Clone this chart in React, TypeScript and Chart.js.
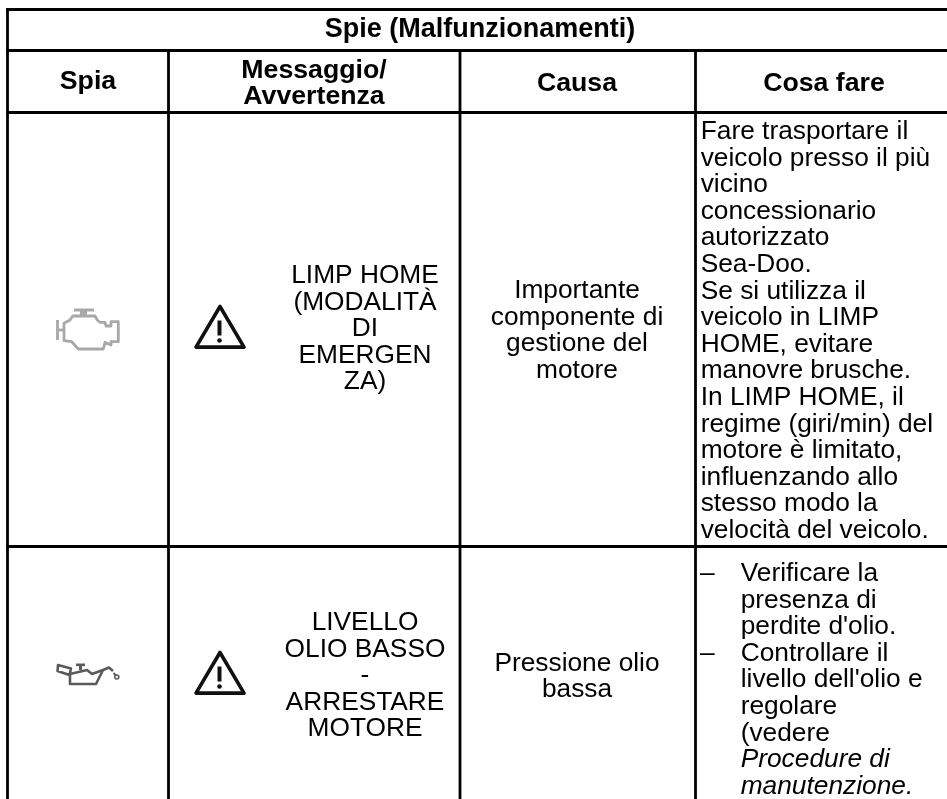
import React, { useEffect, useRef } from "react";
import { Chart, registerables } from "chart.js";

Chart.register(...registerables);

const WIDTH = 947;
const HEIGHT = 799;
const FAMILY = '"Liberation Sans", Arial, sans-serif';
const BODY = 26.3;
const HEAD = 26.7;
const TITLE = 27;

// table frame
const columnEdges = [7.5, 168.5, 460, 695.5];
const rowEdges = [9.5, 50.5, 112.5, 546.5];

// text: [text, x, baseline]
type T = [string, number, number];
const titleText: T[] = [["Spie (Malfunzionamenti)", 480, 36.7]];
const headerTexts: T[] = [
  ["Spia", 88, 88.5],
  ["Messaggio/", 314, 77.7],
  ["Avvertenza", 314, 104],
  ["Causa", 577, 90.7],
  ["Cosa fare", 824, 90.7],
];
const messageTexts: T[] = [
  ["LIMP HOME", 365, 283],
  ["(MODALITÀ", 365, 309.6],
  ["DI", 365, 336.2],
  ["EMERGEN", 365, 362.8],
  ["ZA)", 365, 389.4],
  ["LIVELLO", 365, 630],
  ["OLIO BASSO", 365, 656.6],
  ["-", 365, 683.2],
  ["ARRESTARE", 365, 709.8],
  ["MOTORE", 365, 736.4],
];
const causeTexts: T[] = [
  ["Importante", 577, 298],
  ["componente di", 577, 324.6],
  ["gestione del", 577, 351.2],
  ["motore", 577, 377.8],
  ["Pressione olio", 577, 670.7],
  ["bassa", 577, 697.3],
];
const actionLines = [
  "Fare trasportare il",
  "veicolo presso il più",
  "vicino",
  "concessionario",
  "autorizzato",
  "Sea-Doo.",
  "Se si utilizza il",
  "veicolo in LIMP",
  "HOME, evitare",
  "manovre brusche.",
  "In LIMP HOME, il",
  "regime (giri/min) del",
  "motore è limitato,",
  "influenzando allo",
  "stesso modo la",
  "velocità del veicolo.",
];
const actionTexts: T[] = actionLines.map((s, i) => [s, 700.7, 139 + i * 26.6] as T);
const bulletTexts: T[] = [
  ["–", 700, 581],
  ["–", 700, 661],
];
const stepTexts: T[] = [
  ["Verificare la", 740.7, 581],
  ["presenza di", 740.7, 607.6],
  ["perdite d'olio.", 740.7, 634.2],
  ["Controllare il", 740.7, 660.8],
  ["livello dell'olio e", 740.7, 687.4],
  ["regolare", 740.7, 714],
  ["(vedere", 740.7, 740.6],
];
const italicTexts: T[] = [
  ["Procedure di", 740.7, 767.2],
  ["manutenzione.", 740.7, 793.8],
];

// icon shapes, in reference pixels
const engineOutline = [
  [64, 323.3], [70, 320], [72.7, 316], [95, 316], [97.3, 320], [100, 322.3], [105, 322.3], [106, 326],
  [111, 326], [111, 321.7], [118.3, 321.7], [118.3, 341.7], [111, 341.7], [111, 345], [105, 342.3], [103.3, 349],
  [78.3, 349], [71.7, 341.7], [64, 340.7],
];
const engineCap = [[74, 310], [94, 310]];
const engineStem = [[83.5, 310], [83.5, 315]];
const engineBack = [[57.5, 320], [57.5, 340]];
const engineBackStem = [[57.5, 330], [64, 330]];
const oilHandle = [[58, 665], [71, 668.5], [69.5, 675], [57.5, 671]];
const oilCan = [[70, 674], [70, 684], [96, 684], [103, 670], [109, 667.5], [113, 671]];
const oilTop = [[70, 674], [87, 670], [92, 674], [103, 670]];
const oilCap = [[76, 664.8], [85, 664.8]];
const oilCapStem = [[80.5, 665], [80.5, 670]];
const oilDropLine = [[113.5, 673], [116, 675.5]];
const triangleApexes = [[220, 306.5], [220, 652.5]];

const lineColor = "#000000";

function vertical(x: number, fromY: number) {
  return [{ x, y: fromY }, { x, y: HEIGHT }];
}
function horizontal(y: number) {
  return [{ x: columnEdges[0], y }, { x: WIDTH, y }];
}

const frameDatasets = [
  ...rowEdges.map(horizontal),
  vertical(columnEdges[0], rowEdges[0]),
  ...columnEdges.slice(1).map((x) => vertical(x, rowEdges[1])),
].map((data) => ({
  data,
  showLine: true,
  borderColor: lineColor,
  borderWidth: 2.8,
  pointRadius: 0,
  borderCapStyle: "square" as const,
}));

const textPlugin = {
  id: "tableContent",
  afterDatasetsDraw(chart: any) {
    const { ctx, scales } = chart;
    const X = (v: number) => scales.x.getPixelForValue(v);
    const Y = (v: number) => scales.y.getPixelForValue(v);
    const put = (rows: T[], font: string, align: CanvasTextAlign) => {
      ctx.font = font;
      ctx.textAlign = align;
      ctx.textBaseline = "alphabetic";
      ctx.fillStyle = "#000";
      rows.forEach(([s, x, y]) => ctx.fillText(s, X(x), Y(y)));
    };
    const poly = (pts: number[][], color: string, width: number, close = false) => {
      ctx.beginPath();
      pts.forEach(([x, y], i) => (i ? ctx.lineTo(X(x), Y(y)) : ctx.moveTo(X(x), Y(y))));
      if (close) ctx.closePath();
      ctx.strokeStyle = color;
      ctx.lineWidth = width;
      ctx.lineJoin = "round";
      ctx.lineCap = "butt";
      ctx.stroke();
    };

    ctx.save();
    put(titleText, `bold ${TITLE}px ${FAMILY}`, "center");
    put(headerTexts, `bold ${HEAD}px ${FAMILY}`, "center");
    put(messageTexts, `${BODY}px ${FAMILY}`, "center");
    put(causeTexts, `${BODY}px ${FAMILY}`, "center");
    put(actionTexts, `${BODY}px ${FAMILY}`, "left");
    put(bulletTexts, `${BODY}px ${FAMILY}`, "left");
    put(stepTexts, `${BODY}px ${FAMILY}`, "left");
    put(italicTexts, `italic ${BODY}px ${FAMILY}`, "left");

    const engine = "#a8a8a8";
    poly(engineOutline, engine, 2.8, true);
    poly(engineCap, engine, 3);
    poly(engineStem, engine, 7);
    poly(engineBack, engine, 2.8);
    poly(engineBackStem, engine, 2.8);

    const oil = "#5a5a5a";
    poly(oilHandle, oil, 2.6, true);
    poly(oilCan, oil, 2.6);
    poly(oilTop, oil, 2.6);
    poly(oilCap, oil, 2.6);
    poly(oilCapStem, oil, 3);
    poly(oilDropLine, oil, 1.8);
    ctx.beginPath();
    ctx.arc(X(116.8), Y(677), 2, 0, Math.PI * 2);
    ctx.strokeStyle = oil;
    ctx.lineWidth = 1.6;
    ctx.stroke();

    triangleApexes.forEach(([ax, ay]) => {
      poly([[ax, ay], [ax + 24, ay + 40.6], [ax - 24, ay + 40.6]], "#111", 3.6, true);
      poly([[ax - 0.5, ay + 14], [ax - 0.5, ay + 29]], "#111", 4);
      ctx.beginPath();
      ctx.arc(X(ax - 0.5), Y(ay + 34), 2.3, 0, Math.PI * 2);
      ctx.fillStyle = "#111";
      ctx.fill();
    });
    ctx.restore();
  },
};

export default function App() {
  const ref = useRef<HTMLCanvasElement>(null);
  useEffect(() => {
    if (!ref.current) return;
    const chart = new Chart(ref.current, {
      type: "scatter",
      data: { datasets: frameDatasets as any },
      plugins: [textPlugin],
      options: {
        animation: false,
        responsive: false,
        layout: { padding: 0 },
        plugins: { legend: { display: false }, tooltip: { enabled: false }, title: { display: false } },
        scales: {
          x: { type: "linear", min: 0, max: WIDTH, display: false },
          y: { type: "linear", min: 0, max: HEIGHT, reverse: true, display: false },
        },
      },
    });
    return () => chart.destroy();
  }, []);
  return (
    <div style={{ position: "absolute", left: 0, top: 0, width: WIDTH, height: HEIGHT, background: "#fff" }}>
      <canvas ref={ref} width={WIDTH} height={HEIGHT} style={{ display: "block" }} />
    </div>
  );
}
